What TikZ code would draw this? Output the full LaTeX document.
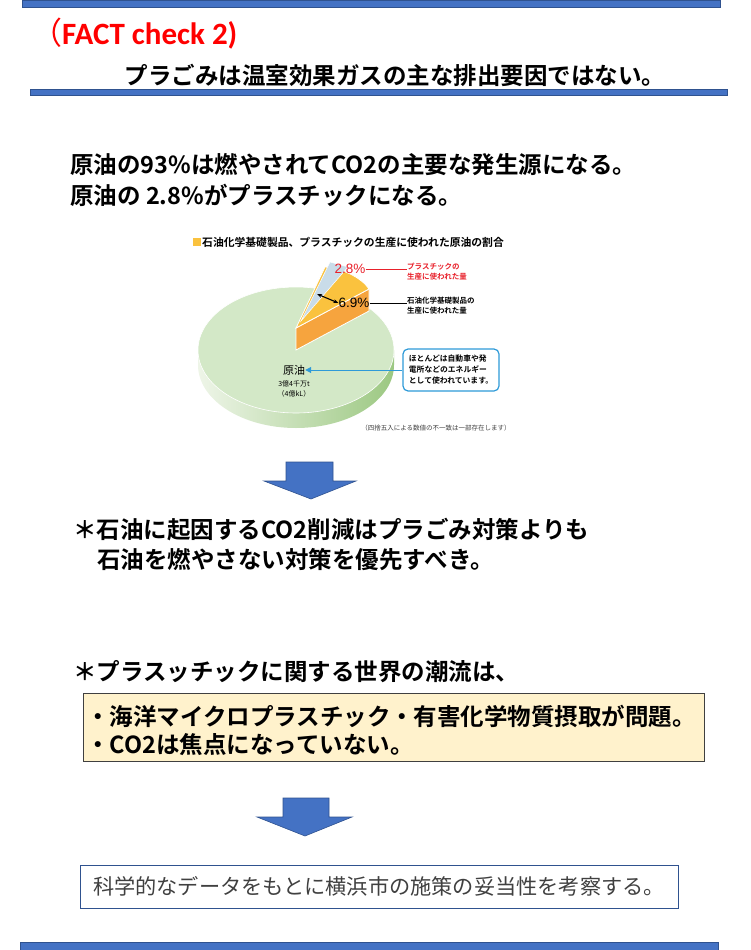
\documentclass[tikz,border=0pt]{standalone}
\usepackage{fontspec}
\setmainfont{Carlito}
\newfontfamily\jp{Noto Sans CJK JP}[BoldFont={Noto Sans CJK JP Bold}]
\newfontfamily\arial{Liberation Sans}
\usetikzlibrary{arrows.meta, calc, positioning}

\definecolor{barblue}{HTML}{4472C4}
\definecolor{bardark}{HTML}{2F528F}
\definecolor{notered}{HTML}{E8212B}
\definecolor{pietop}{HTML}{D3E8C7}
\definecolor{pieside}{HTML}{9CC882}
\definecolor{pielight}{HTML}{EEF5E8}
\definecolor{sliceyellow}{HTML}{FAC23E}
\definecolor{sliceorange}{HTML}{F6A43E}
\definecolor{sliceblue}{HTML}{C9DCE9}
\definecolor{calloutblue}{HTML}{2E9AD8}
\definecolor{boxyellow}{HTML}{FFF2CC}
\definecolor{boxgray}{HTML}{404040}

\begin{document}
\begin{tikzpicture}[x=1pt, y=-1pt,
    bar/.style={fill=barblue, draw=bardark, line width=0.8pt},
    bigarrow/.style={fill=barblue, draw=bardark, line width=0.6pt},
    mainline/.style={anchor=west, inner sep=0pt, font=\jp\bfseries\fontsize{23.5}{28}\selectfont},
    pienote/.style={anchor=north west, inner sep=0pt, align=left, font=\jp\bfseries\fontsize{7.5}{9.5}\selectfont},
    percent/.style={inner sep=0pt, font=\arial\fontsize{13.5}{13.5}\selectfont}]

    \useasboundingbox (0,0) rectangle (750,950);

    % bars
    \draw[bar] (22,0) rectangle (720,7);
    \draw[bar] (30,89) rectangle (727,95);
    \draw[bar] (20,942) rectangle (718,950);

    % heading
    \node[anchor=base west, inner sep=0pt, text=red, font=\bfseries\fontsize{31}{31}\selectfont]
        (fact) at (31,45) {{\jp\mdseries （}FACT check 2)};
    \node[inner sep=0pt, font=\jp\bfseries\fontsize{23.5}{28}\selectfont]
        (subtitle) at (395,75) {プラごみは温室効果ガスの主な排出要因ではない。};

    \node[mainline] (crude1) at (70,165) {原油の93\%は燃やされてCO2の主要な発生源になる。};
    \node[mainline] (crude2) at (70,195) {原油の 2.8\%がプラスチックになる。};

    % pie chart
    \fill[sliceyellow] (193,238) rectangle (201,246);
    \node[anchor=west, inner sep=0pt, font=\jp\bfseries\fontsize{10.8}{12}\selectfont]
        (pietitle) at (202,242) {石油化学基礎製品、プラスチックの生産に使われた原油の割合};

    \coordinate (C) at (296,350);
    \shade[left color=pielight, right color=pieside]
        ($(C)+(-98,0)$) -- ($(C)+(-98,15)$)
        arc[start angle=180, end angle=0, x radius=98, y radius=63]
        -- ($(C)+(98,0)$) -- cycle;
    \fill[pietop, draw=white, line width=0.6pt] (C) ellipse [x radius=98, y radius=63];

    \coordinate (tl) at ($(C)+(0,-22)$);
    \coordinate (br) at (369,311);
    \coordinate (tr) at (369,289);
    \coordinate (tip) at (325,267);
    \filldraw[sliceorange, draw=white, line width=0.8pt] (C) -- (br) -- (tr) -- (tl) -- cycle;
    \filldraw[sliceyellow, draw=white, line width=0.8pt] (tl) -- (tr)
        .. controls (362,278) and (342,268) .. (tip) -- cycle;
    \filldraw[sliceblue, draw=white, line width=0.5pt] (301,321) -- (330,262) -- (348,267) -- cycle;

    \node[percent, text=notered] (p28) at (350,269) {2.8\%};
    \node[percent] (p69) at (354,303) {6.9\%};
    \coordinate (wedge) at (317,294);
    \draw[{Stealth[length=5pt]}-{Stealth[length=5pt]}, line width=1.1pt] (wedge) -- (p69.west);

    \node[pienote, text=notered] (plasnote) at (407,263) {プラスチックの\\生産に使われた量};
    \node[pienote] (petronote) at (407,297) {石油化学基礎製品の\\生産に使われた量};
    \draw[notered, line width=0.7pt] (p28.east) -- (p28.east -| plasnote.west);
    \draw[line width=0.7pt] (p69.east) -- (p69.east -| petronote.west);

    \node[inner sep=0pt, font=\jp\fontsize{11}{12}\selectfont] (crude) at (294,370) {原油};
    \node[inner sep=0pt, align=center, font=\jp\fontsize{7}{10.5}\selectfont, below=5pt of crude]
        (amount) {3億4千万t\\（4億kL）};
    \node[draw=calloutblue, line width=1.2pt, rounded corners=5pt, fill=white, align=left,
        minimum width=96pt, minimum height=42pt, inner sep=2pt,
        font=\jp\bfseries\fontsize{7.8}{11}\selectfont] (energy) at (451,370)
        {ほとんどは自動車や発\\電所などのエネルギー\\として使われています。};
    \draw[-{Triangle[length=6pt, width=6pt]}, calloutblue, line width=1pt] (energy.west) -- (crude.east);
    \node[inner sep=0pt, text=boxgray, font=\jp\fontsize{6.5}{8}\selectfont]
        (rounding) at (436,428) {（四捨五入による数値の不一致は一部存在します）};

    % arrow 1
    \coordinate (arrowA) at (311,462);
    \draw[bigarrow] ($(arrowA)+(-25,0)$) -- ($(arrowA)+(22,0)$) -- ($(arrowA)+(22,19)$)
        -- ($(arrowA)+(45,19)$) -- ($(arrowA)+(0,37)$) -- ($(arrowA)+(-47,19)$)
        -- ($(arrowA)+(-25,19)$) -- cycle;

    \node[mainline] (reduce1) at (73,530) {＊石油に起因するCO2削減はプラごみ対策よりも};
    \node[mainline] (reduce2) at (97,560) {石油を燃やさない対策を優先すべき。};

    \node[mainline] (trend) at (73,672) {＊プラスッチックに関する世界の潮流は、};
    \draw[fill=boxyellow, draw=boxgray, line width=0.7pt] (83,693) rectangle (704,761);
    \node[mainline] (micro) at (86,716) {・海洋マイクロプラスチック・有害化学物質摂取が問題。};
    \node[mainline] (focus) at (86,745) {・CO2は焦点になっていない。};

    % arrow 2
    \coordinate (arrowB) at (305,798);
    \draw[bigarrow] ($(arrowB)+(-22,0)$) -- ($(arrowB)+(24,0)$) -- ($(arrowB)+(24,19)$)
        -- ($(arrowB)+(47,19)$) -- ($(arrowB)+(0,38)$) -- ($(arrowB)+(-48,19)$)
        -- ($(arrowB)+(-22,19)$) -- cycle;

    \node[draw=bardark, line width=0.7pt, minimum width=598pt, minimum height=43pt, inner sep=0pt,
        text=boxgray, font=\jp\fontsize{21.2}{24}\selectfont] (conclude) at (379,886.5)
        {科学的なデータをもとに横浜市の施策の妥当性を考察する。};
\end{tikzpicture}
\end{document}
